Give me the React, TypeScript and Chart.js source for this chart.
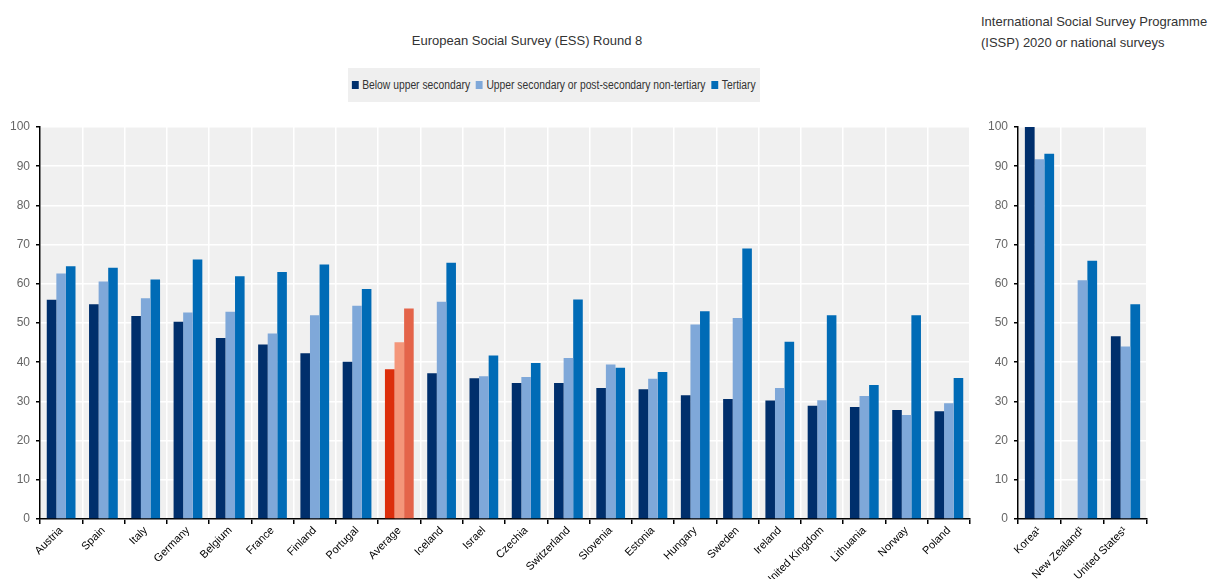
import React, { useEffect, useRef } from "react";
import { Chart, registerables } from "chart.js";

Chart.register(...registerables);

const FONT = "'Liberation Sans Narrow', 'Liberation Sans', Arial, sans-serif";

const essCountries = [
  "Austria", "Spain", "Italy", "Germany", "Belgium", "France", "Finland", "Portugal",
  "Average", "Iceland", "Israel", "Czechia", "Switzerland", "Slovenia", "Estonia",
  "Hungary", "Sweden", "Ireland", "United Kingdom", "Lithuania", "Norway", "Poland",
];
const essBelow = [55.9, 54.8, 51.8, 50.3, 46.2, 44.5, 42.3, 40.1, 38.2, 37.2, 35.9, 34.7, 34.7, 33.4, 33.1, 31.6, 30.6, 30.2, 28.9, 28.6, 27.8, 27.5];
const essUpper = [62.6, 60.6, 56.3, 52.7, 52.9, 47.3, 52.0, 54.4, 45.1, 55.4, 36.4, 36.2, 41.1, 39.4, 35.8, 49.6, 51.3, 33.4, 30.3, 31.4, 26.5, 29.5];
const essTertiary = [64.5, 64.1, 61.1, 66.2, 61.9, 63.0, 64.9, 58.7, 53.7, 65.4, 41.7, 39.8, 56.0, 38.6, 37.5, 53.0, 69.0, 45.2, 52.0, 34.2, 52.0, 36.0];

const isspCountries = ["Korea¹", "New Zealand¹", "United States¹"];
const isspBelow = [100, null, 46.6];
const isspUpper = [91.8, 60.9, 44.0];
const isspTertiary = [93.2, 65.9, 54.8];

const seriesNames = ["Below upper secondary", "Upper secondary or post-secondary non-tertiary", "Tertiary"];
const seriesColors = ["#002F6C", "#7FA8D9", "#006BB6"];
const averageColors = ["#DC2E0B", "#F4967A", "#E4644A"];
const AVERAGE_LABEL = "Average";

const bgPlugin = {
  id: "plotBg",
  beforeDraw(chart: any) {
    const { ctx, chartArea } = chart;
    if (!chartArea) return;
    ctx.save();
    ctx.fillStyle = "#f0f0f0";
    ctx.fillRect(chartArea.left, chartArea.top, chartArea.right - chartArea.left, chartArea.bottom - chartArea.top);
    ctx.restore();
  },
};

function makeConfig(labels: string[], series: (number | null)[][], rightPad: number) {
  const datasets = series.map((data, si) => ({
    label: seriesNames[si],
    data,
    backgroundColor: labels.map((l) => (l === AVERAGE_LABEL ? averageColors[si] : seriesColors[si])),
    borderWidth: 0,
    categoryPercentage: 0.68,
    barPercentage: 1.0,
  }));
  return {
    type: "bar" as const,
    data: { labels, datasets },
    plugins: [bgPlugin],
    options: {
      animation: false,
      responsive: false,
      maintainAspectRatio: false,
      layout: { padding: { top: 17, right: rightPad, left: 0, bottom: 0 } },
      plugins: { legend: { display: false }, tooltip: { enabled: false } },
      scales: {
        x: {
          grid: { color: "#ffffff", lineWidth: 1.5, offset: true, drawTicks: true, tickLength: 5, tickColor: "#000000" },
          border: { color: "#000000", width: 1.5 },
          ticks: {
            autoSkip: false,
            maxRotation: 45,
            minRotation: 45,
            color: "#000000",
            padding: 0,
            font: { size: 11, family: FONT },
          },
          afterFit: (s: any) => {
            s.height = 60;
          },
        },
        y: {
          min: 0,
          max: 100,
          ticks: { stepSize: 10, color: "#666666", padding: 6, font: { size: 12, family: FONT } },
          grid: { color: "#ffffff", lineWidth: 1.5, tickLength: 4, tickColor: "#000000" },
          border: { color: "#000000", width: 1.5 },
          afterFit: (s: any) => {
            s.width = 40;
          },
        },
      },
    },
  };
}

function BarCanvas(props: { labels: string[]; series: (number | null)[][]; width: number; height: number; rightPad: number; style: any }) {
  const ref = useRef<HTMLCanvasElement | null>(null);
  useEffect(() => {
    if (!ref.current) return;
    const chart = new Chart(ref.current, makeConfig(props.labels, props.series, props.rightPad) as any);
    return () => chart.destroy();
  }, []);
  return <canvas ref={ref} width={props.width} height={props.height} style={{ position: "absolute", ...props.style, width: props.width, height: props.height }} />;
}

export default function App() {
  const textStyle = { fontFamily: FONT, color: "#333333", fontSize: 13, position: "absolute" as const, whiteSpace: "nowrap" as const };
  return (
    <div style={{ position: "absolute", left: 0, top: 0, width: 1210, height: 579, background: "#ffffff", overflow: "hidden" }}>
      <div style={{ ...textStyle, left: 0, width: 1054, top: 33, textAlign: "center" }}>European Social Survey (ESS) Round 8</div>
      <div style={{ ...textStyle, left: 981, top: 11, lineHeight: "21px" }}>
        International Social Survey Programme
        <br />
        (ISSP) 2020 or national surveys
      </div>
      <div
        style={{
          position: "absolute",
          left: 348,
          top: 68,
          width: 412,
          height: 34,
          background: "#efefef",
          display: "flex",
          alignItems: "center",
          justifyContent: "center",
          fontFamily: FONT,
          fontSize: 12,
          color: "#333333",
          whiteSpace: "nowrap",
        }}
      >
        <div style={{ display: "flex", alignItems: "center", transform: "scaleX(0.86)", transformOrigin: "center" }}>
          {seriesNames.map((n, i) => (
            <span key={n} style={{ display: "inline-flex", alignItems: "center", marginRight: i < 2 ? 7 : 0 }}>
              <span style={{ display: "inline-block", width: 8, height: 8, background: seriesColors[i], marginRight: 4 }} />
              {n}
            </span>
          ))}
        </div>
      </div>
      <BarCanvas
        labels={essCountries}
        series={[essBelow, essUpper, essTertiary]}
        width={975}
        height={469}
        rightPad={5}
        style={{ left: 0, top: 110 }}
      />
      <BarCanvas
        labels={isspCountries}
        series={[isspBelow, isspUpper, isspTertiary]}
        width={175}
        height={469}
        rightPad={6}
        style={{ left: 978, top: 110 }}
      />
    </div>
  );
}
